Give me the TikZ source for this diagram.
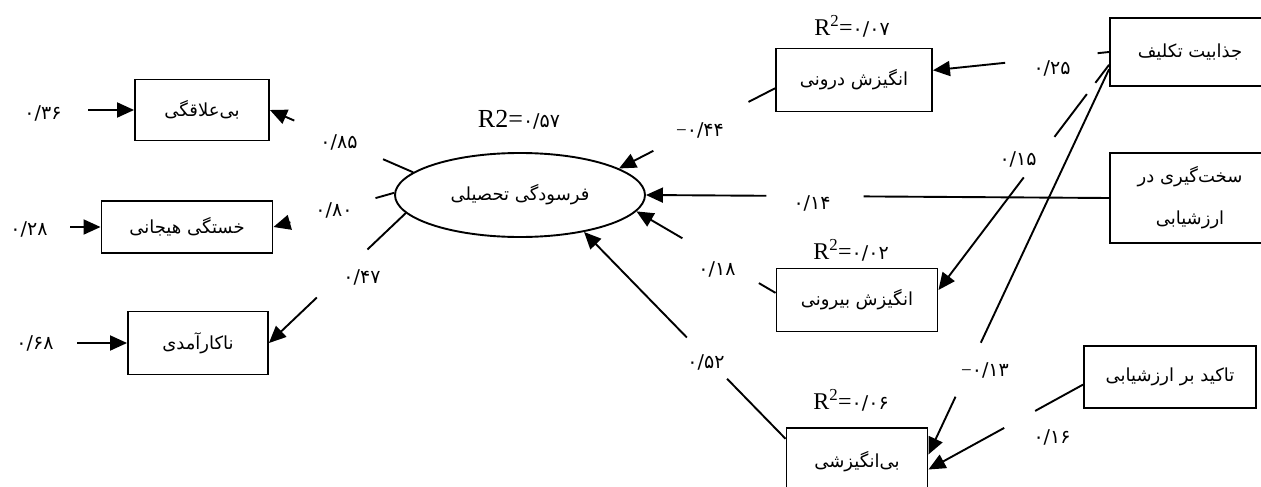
\documentclass[tikz,border=0pt]{standalone}
\usepackage{fontspec}
\setmainfont{Liberation Serif}
\newfontfamily\farsifont[Script=Arabic]{DejaVu Sans}
\TeXXeTstate=1
\usetikzlibrary{arrows.meta,shapes.geometric,calc}
\tikzset{
  varbox/.style={draw,line width=1.9pt,inner sep=0pt,align=center,
    font=\farsifont\fontsize{18}{42}\selectfont},
  latent/.style={varbox,ellipse},
  pathedge/.style={line width=1.9pt},
  patharrow/.style={pathedge,-{Triangle[length=17pt,width=15pt]}},
  coef/.style={font=\farsifont\fontsize{19}{20}\selectfont,inner sep=0pt},
  rsq/.style={font=\fontsize{24}{26}\selectfont,inner sep=0pt}
}
\newcommand{\fadigits}[1]{{\farsifont\fontsize{19}{20}\selectfont #1}}
\newcommand{\negsign}{{\rmfamily −}}

\begin{document}
\begin{tikzpicture}[x=1pt,y=-1pt]
  \useasboundingbox[fill=white] (0,0) rectangle (1261,487);
  % burnout and its three dimensions
  \node[latent,minimum width=250,minimum height=84] (ell) at (520,195) {\beginR فرسودگی تحصیلی\endR};
  \node[rsq,font=\fontsize{26}{28}\selectfont] at (519,120) {R2=\fadigits{۰/۵۷}};
  \node[varbox,minimum width=134,minimum height=61] (bi) at (202,110) {بی‌علاقگی};
  \node[varbox,minimum width=171,minimum height=52] (khast) at (187,227) {\beginR خستگی هیجانی\endR};
  \node[varbox,minimum width=140,minimum height=63] (nakar) at (198,343) {ناکارآمدی};
  \coordinate (e1) at (88,110);
  \coordinate (e2) at (70,227);
  \coordinate (e3) at (77,343);
  \node[coef] at (43,113) {۰/۳۶};
  \node[coef] at (29,229) {۰/۲۸};
  \node[coef] at (35,343) {۰/۶۸};
  \draw[patharrow] (e1) -- (bi.west);
  \draw[patharrow] (e2) -- (khast.west);
  \draw[patharrow] (e3) -- (nakar.west);
  \draw[patharrow] (ell.168) -- ($(ell.168)!0.21!(bi.east)$) ($(ell.168)!0.83!(bi.east)$) -- (bi.east);
  \draw[patharrow] (ell.179) -- ($(ell.179)!0.155!(khast.east)$) ($(ell.179)!0.86!(khast.east)$) -- (khast.east);
  \draw[patharrow] (ell.189) -- ($(ell.189)!0.28!(nakar.east)$) ($(ell.189)!0.65!(nakar.east)$) -- (nakar.east);
  \node[coef] at (339,142) {۰/۸۵};
  \node[coef] at (334,210) {۰/۸۰};
  \node[coef] at (362,277) {۰/۴۷};
  % motivation
  \node[varbox,minimum width=156,minimum height=63] (dar) at (854,80) {\beginR انگیزش درونی\endR};
  \node[varbox,minimum width=161,minimum height=63] (birun) at (857,300) {\beginR انگیزش بیرونی\endR};
  \node[varbox,minimum width=141,minimum height=68] (bianeg) at (857,462) {بی‌انگیزشی};
  \node[rsq] at (852,26) {R\textsuperscript{2}=\fadigits{۰/۰۷}};
  \node[rsq] at (851,250) {R\textsuperscript{2}=\fadigits{۰/۰۲}};
  \node[rsq] at (851,400) {R\textsuperscript{2}=\fadigits{۰/۰۶}};
  \draw[patharrow] (dar.186) -- ($(dar.186)!0.17!(ell.15)$) ($(dar.186)!0.78!(ell.15)$) -- (ell.15);
  \draw[patharrow] (birun.175) -- ($(birun.175)!0.12!(ell.352)$) ($(birun.175)!0.67!(ell.352)$) -- (ell.352);
  \draw[patharrow] (bianeg.162) -- ($(bianeg.162)!0.29!(ell.330)$) ($(bianeg.162)!0.49!(ell.330)$) -- (ell.330);
  \node[coef] at (700,130) {\negsign۰/۴۴};
  \node[coef] at (717,269) {۰/۱۸};
  \node[coef] at (706,362) {۰/۵۲};
  % classroom assessment
  \node[varbox,minimum width=160,minimum height=68] (jazab) at (1190,52) {\beginR جذابیت تکلیف\endR};
  \node[varbox,minimum width=160,minimum height=90] (sakht) at (1190,198) {\beginR سخت‌گیری در\endR\\\beginR ارزشیابی\endR};
  \node[varbox,minimum width=172,minimum height=62] (takid) at (1170,377) {\beginR تاکید بر ارزشیابی\endR};
  \draw[patharrow] (sakht.west) -- ($(sakht.west)!0.53!(ell.east)$) ($(sakht.west)!0.74!(ell.east)$) -- (ell.east);
  \draw[patharrow] (jazab.west) -- ($(jazab.west)!0.065!(dar.7)$) ($(jazab.west)!0.59!(dar.7)$) -- (dar.7);
  \draw[patharrow] (jazab.189) -- ($(jazab.189)!0.08!(birun.7)$) ($(jazab.189)!0.13!(birun.7)$) -- ($(jazab.189)!0.32!(birun.7)$)
    ($(jazab.189)!0.5!(birun.7)$) -- (birun.7);
  \draw[patharrow] (jazab.192) -- ($(jazab.192)!0.71!(bianeg.6)$) ($(jazab.192)!0.85!(bianeg.6)$) -- (bianeg.6);
  \draw[patharrow] (takid.185) -- ($(takid.185)!0.31!(bianeg.354)$) ($(takid.185)!0.51!(bianeg.354)$) -- (bianeg.354);
  \node[coef] at (812,203) {۰/۱۴};
  \node[coef] at (1052,68) {۰/۲۵};
  \node[coef] at (1018,159) {۰/۱۵};
  \node[coef] at (985,370) {\negsign۰/۱۳};
  \node[coef] at (1052,437) {۰/۱۶};
\end{tikzpicture}
\end{document}
